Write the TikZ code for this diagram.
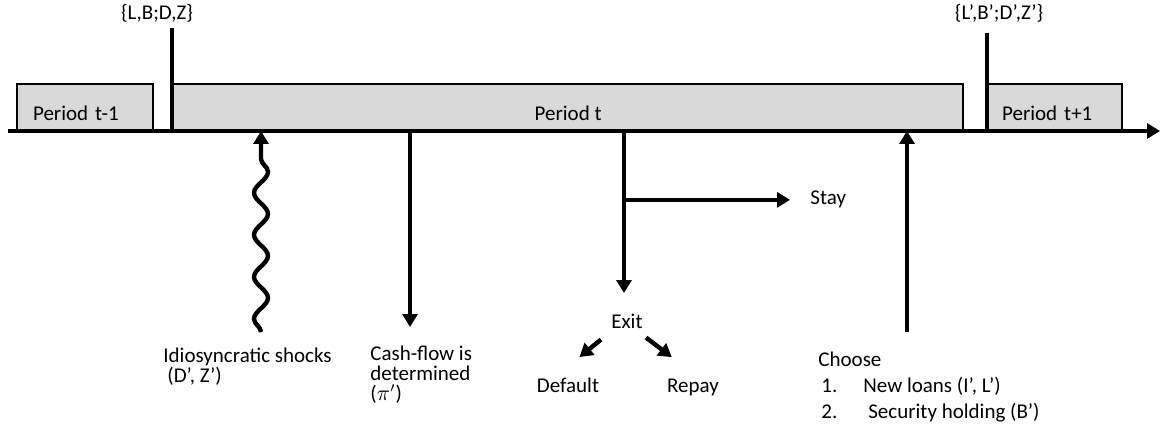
\documentclass[tikz,border=0pt]{standalone}
\usepackage{fontspec}
\setmainfont{Carlito}
\usetikzlibrary{arrows.meta, positioning, decorations.pathmorphing}
\definecolor{PeriodGray}{HTML}{D9D9D9}

\begin{document}
\begin{tikzpicture}[x=0.5pt, y=-0.5pt, >={Triangle[length=6.5pt, width=7.5pt]},
        font=\fontsize{10.5}{10}\selectfont,
        periodbox/.style={rectangle, draw=black, line width=1.1pt, fill=PeriodGray, minimum height=23pt, inner ysep=0pt, text height=18.5pt, text depth=4.5pt, anchor=south west},
        lbl/.style={inner sep=0pt, anchor=base west},
        arrow/.style={->, line width=2.2pt},
        timeline/.style={->, line width=2pt},
        statemark/.style={line width=2.4pt}]

        \useasboundingbox (0,0) rectangle (1162,433);

        % periods on the time line
        \node[periodbox, minimum width=68pt, text width=52pt, inner xsep=8pt, align=left] (prev) at (16,131) {Period t-1};
        \node[periodbox, minimum width=395pt, inner xsep=0pt] (now) at (172,131) {Period t};
        \node[periodbox, minimum width=67pt, text width=53pt, inner xsep=7pt, align=left] (next) at (987,131) {Period t+1};

        \coordinate (origin) at (8,131);
        \coordinate (horizon) at (1160,131);
        \draw[timeline] (origin) -- (horizon);

        % states at the start of t and t+1
        \draw[statemark] (now.south west) -- ++(0,-103);
        \draw[statemark] (next.south west) -- ++(0,-98);
        \node[lbl, anchor=base] (stateNow) at (157,20) {\{L,B;D,Z\}};
        \node[lbl, anchor=base] (stateNext) at (999,20) {\{L’,B’;D’,Z’\}};

        % events within period t (multi-line texts sit on their last line)
        \node[lbl, align=left] (shocks) at (163,382) {Idiosyncratic shocks\\\hspace{2pt}(D’, Z’)};
        \node[lbl, align=left] (cash) at (370,400) {Cash-flow is\\determined\\($\pi'$)};
        \node[lbl, anchor=base] (exit) at (627,328) {Exit};
        \node[lbl] (stay) at (810,205) {Stay};
        \node[lbl, anchor=base] (default) at (568,392) {Default};
        \node[lbl, anchor=base] (repay) at (693,392) {Repay};
        \node[lbl, align=left] (choose) at (818,418) {Choose\\[3pt]
            \hspace{1.5pt}1.\hspace{13pt}New loans (I’, L’)\\[3pt]
            \hspace{1.5pt}2.\hspace{15.5pt}Security holding (B’)};

        \coordinate (shockFoot) at (261,332);
        \coordinate (cashTip) at (410,327);
        \coordinate (exitTip) at (624,293);
        \coordinate (chooseFoot) at (907,332);

        \draw[arrow, decorate, decoration={snake, segment length=21pt, amplitude=3.5pt, post length=6pt}] (shockFoot) -- (shockFoot |- now.south);
        \draw[arrow] (cashTip |- now.south) -- (cashTip);
        \draw[arrow] (exitTip |- now.south) -- (exitTip);
        \draw[arrow] (exitTip |- stay.west) -- ([xshift=-10pt]stay.west);
        \draw[arrow] ([shift={(-10,11)}]exit.south west) -- ([shift={(-20,-20)}]default.north east);
        \draw[arrow] ([shift={(3,9)}]exit.south east) -- ([shift={(5,-21)}]repay.north west);
        \draw[arrow] (chooseFoot) -- (chooseFoot |- now.south);
\end{tikzpicture}
\end{document}
